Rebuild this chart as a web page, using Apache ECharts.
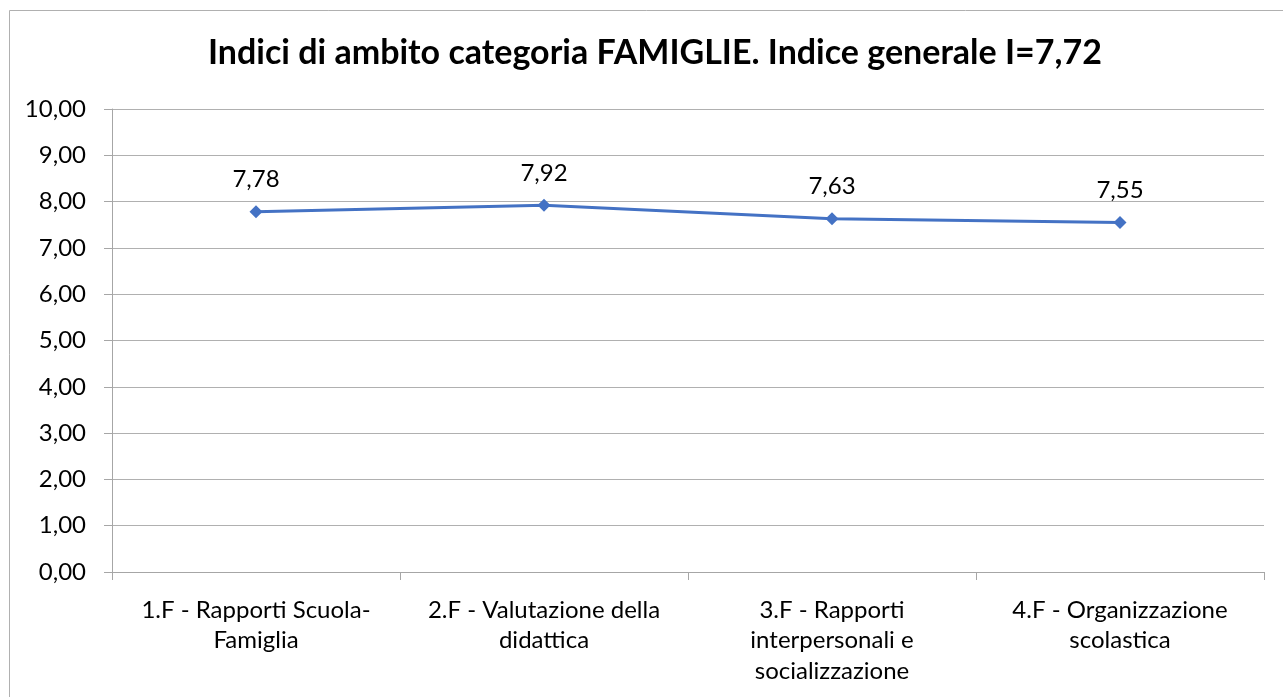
<!DOCTYPE html>
<html>
	<head>
		<meta charset="utf-8" />
		<title>famiglie</title>
		<script src="https://cdn.jsdelivr.net/npm/echarts@6/dist/echarts.min.js"></script>
		<style>
			html, body { margin: 0; padding: 0; background: #fff; }
		</style>
	</head>
	<body>
		<div id="main" style="width:1283px;height:697px;"></div>
	</body>
	<script type="text/javascript">

	var categories = [
		'1.F - Rapporti Scuola-\nFamiglia',
		'2.F - Valutazione della\ndidattica',
		'3.F - Rapporti\ninterpersonali e\nsocializzazione',
		'4.F - Organizzazione\nscolastica'
	];
	var values = [7.78, 7.92, 7.63, 7.55];
	var titleText = 'Indici di ambito categoria FAMIGLIE. Indice generale I=7,72';

	var FONT = 'Lato';
	function comma(v) { return v.toFixed(2).replace('.', ','); }

	var myChart = echarts.init(document.getElementById('main'));
	var option = {
		backgroundColor: '#fff',
		animation: false,
		title: {
			text: titleText,
			left: 203,
			top: 31,
			textStyle: { fontFamily: FONT, fontSize: 34, fontWeight: 'bold', color: '#000' }
		},
		graphic: [{
			type: 'rect',
			shape: { x: 9.5, y: 10.5, width: 1290, height: 700 },
			style: { fill: null, stroke: '#b0b0b0', lineWidth: 1 }
		}],
		grid: { left: 112, right: 19, top: 109, bottom: 125 },
		xAxis: {
			type: 'category',
			data: categories,
			boundaryGap: true,
			axisLine: { lineStyle: { color: '#a6a6a6', width: 1 } },
			axisTick: { show: true, length: 8, lineStyle: { color: '#a6a6a6' } },
			axisLabel: {
				interval: 0, margin: 23, color: '#000', fontFamily: FONT, fontSize: 24, lineHeight: 30.5
			},
			splitLine: { show: false }
		},
		yAxis: {
			type: 'value',
			min: 0,
			max: 10,
			interval: 1,
			axisLine: { show: true, lineStyle: { color: '#a6a6a6', width: 1 } },
			axisTick: { show: true, length: 8, lineStyle: { color: '#a6a6a6' } },
			axisLabel: {
				margin: 26, color: '#000', fontFamily: FONT, fontSize: 24,
				formatter: function (v) { return comma(v); }
			},
			splitLine: { show: true, lineStyle: { color: '#b0b0b0', width: 1 } }
		},
		series: [{
			type: 'line',
			data: values,
			symbol: 'diamond',
			symbolSize: 13,
			lineStyle: { color: '#4472C4', width: 3 },
			itemStyle: { color: '#4472C4' },
			label: {
				show: true,
				position: 'top',
				distance: 14,
				color: '#000',
				fontFamily: FONT,
				fontSize: 24,
				formatter: function (p) { return comma(p.value); }
			}
		}]
	};
	myChart.setOption(option);
	</script>
</html>
